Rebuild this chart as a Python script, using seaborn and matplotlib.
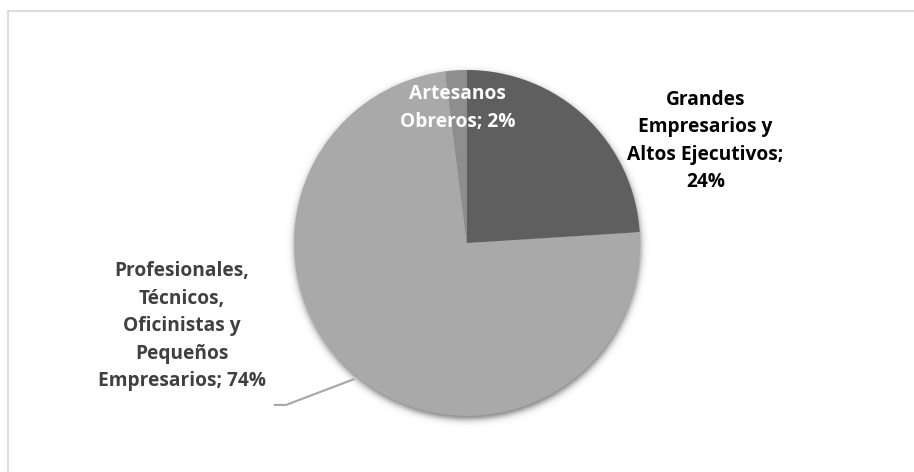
import numpy as np
import matplotlib
matplotlib.use("Agg")
import matplotlib.pyplot as plt
from matplotlib.patches import Rectangle
import seaborn as sns

# Occupational groups (clockwise from 12 o'clock) and their shares
categories = [
    "Grandes\nEmpresarios y\nAltos Ejecutivos",
    "Profesionales,\nTécnicos,\nOficinistas y\nPequeños\nEmpresarios",
    "Artesanos\nObreros",
]
shares = [24, 74, 2]
value_separators = [";\n", "; ", "; "]
slice_colors = ["#5f5f5f", "#a9a9a9", "#8e8e8e"]
label_colors = ["#000000", "#404040", "#ffffff"]

sns.set_theme(style="white")
plt.rcParams["font.family"] = ["Open Sans", "DejaVu Sans"]

W, H, DPI = 914, 472, 100
fig = plt.figure(figsize=(W / DPI, H / DPI), dpi=DPI)
fig.patch.set_facecolor("white")

# chart frame (only the top/left edges fall inside the canvas)
fig.patches.append(Rectangle((8 / W, -0.2), 1.2, (H - 11) / H + 0.2,
                             transform=fig.transFigure, fill=False,
                             edgecolor="#d9d9d9", linewidth=1.3))

# one pie radius = R pixels, pie centre at (CX, CY) in pixel space (top-left origin)
R, CX, CY = 173.0, 467.0, 243.0
ax = fig.add_axes([0, 0, 1, 1])
ax.axis("off")

# soft drop shadow under the pie
gx = np.linspace(-1.3, 1.3, 600)
gy = np.linspace(-1.3, 1.3, 600)
XX, YY = np.meshgrid(gx, gy)
d = np.hypot(XX - 0.004, YY + 0.018)
alpha = 0.55 / (1 + np.exp((d - 1.0) / 0.012))
shadow = np.zeros((600, 600, 4))
shadow[..., 3] = alpha
ax.imshow(shadow, extent=(-1.3, 1.3, -1.3, 1.3), origin="lower",
          zorder=1, interpolation="bilinear")

wedges, _ = ax.pie(shares, colors=slice_colors, startangle=90,
                   counterclock=False, radius=1.0, center=(0, 0),
                   wedgeprops=dict(linewidth=0), frame=False)
for w in wedges:
    w.set_zorder(2)
ax.set_xlim(-CX / R, (W - CX) / R)
ax.set_ylim((CY - H) / R, CY / R)
ax.set_aspect("auto")

label_pos = [(1.378, 0.59), (-1.65, -0.48), (-0.055, 0.78)]
for text, sep, val, col, (lx, ly) in zip(categories, value_separators, shares,
                                         label_colors, label_pos):
    ax.text(lx, ly, f"{text}{sep}{val}%", ha="center", va="center",
            fontsize=13.8, fontweight="bold", color=col,
            linespacing=1.5, zorder=5)

# leader line for the large slice, ending at the slice's mid-angle on the rim
w = wedges[1]
mid = np.deg2rad((w.theta1 + w.theta2) / 2)
ex, ey = 1.02 * np.cos(mid), 1.02 * np.sin(mid)
ax.plot([-1.116, -1.046, ex], [-0.936, -0.936, ey], color="#a6a6a6",
        lw=1.5, zorder=3, solid_capstyle="butt")

fig.savefig("out.png", dpi=DPI, facecolor="white")
